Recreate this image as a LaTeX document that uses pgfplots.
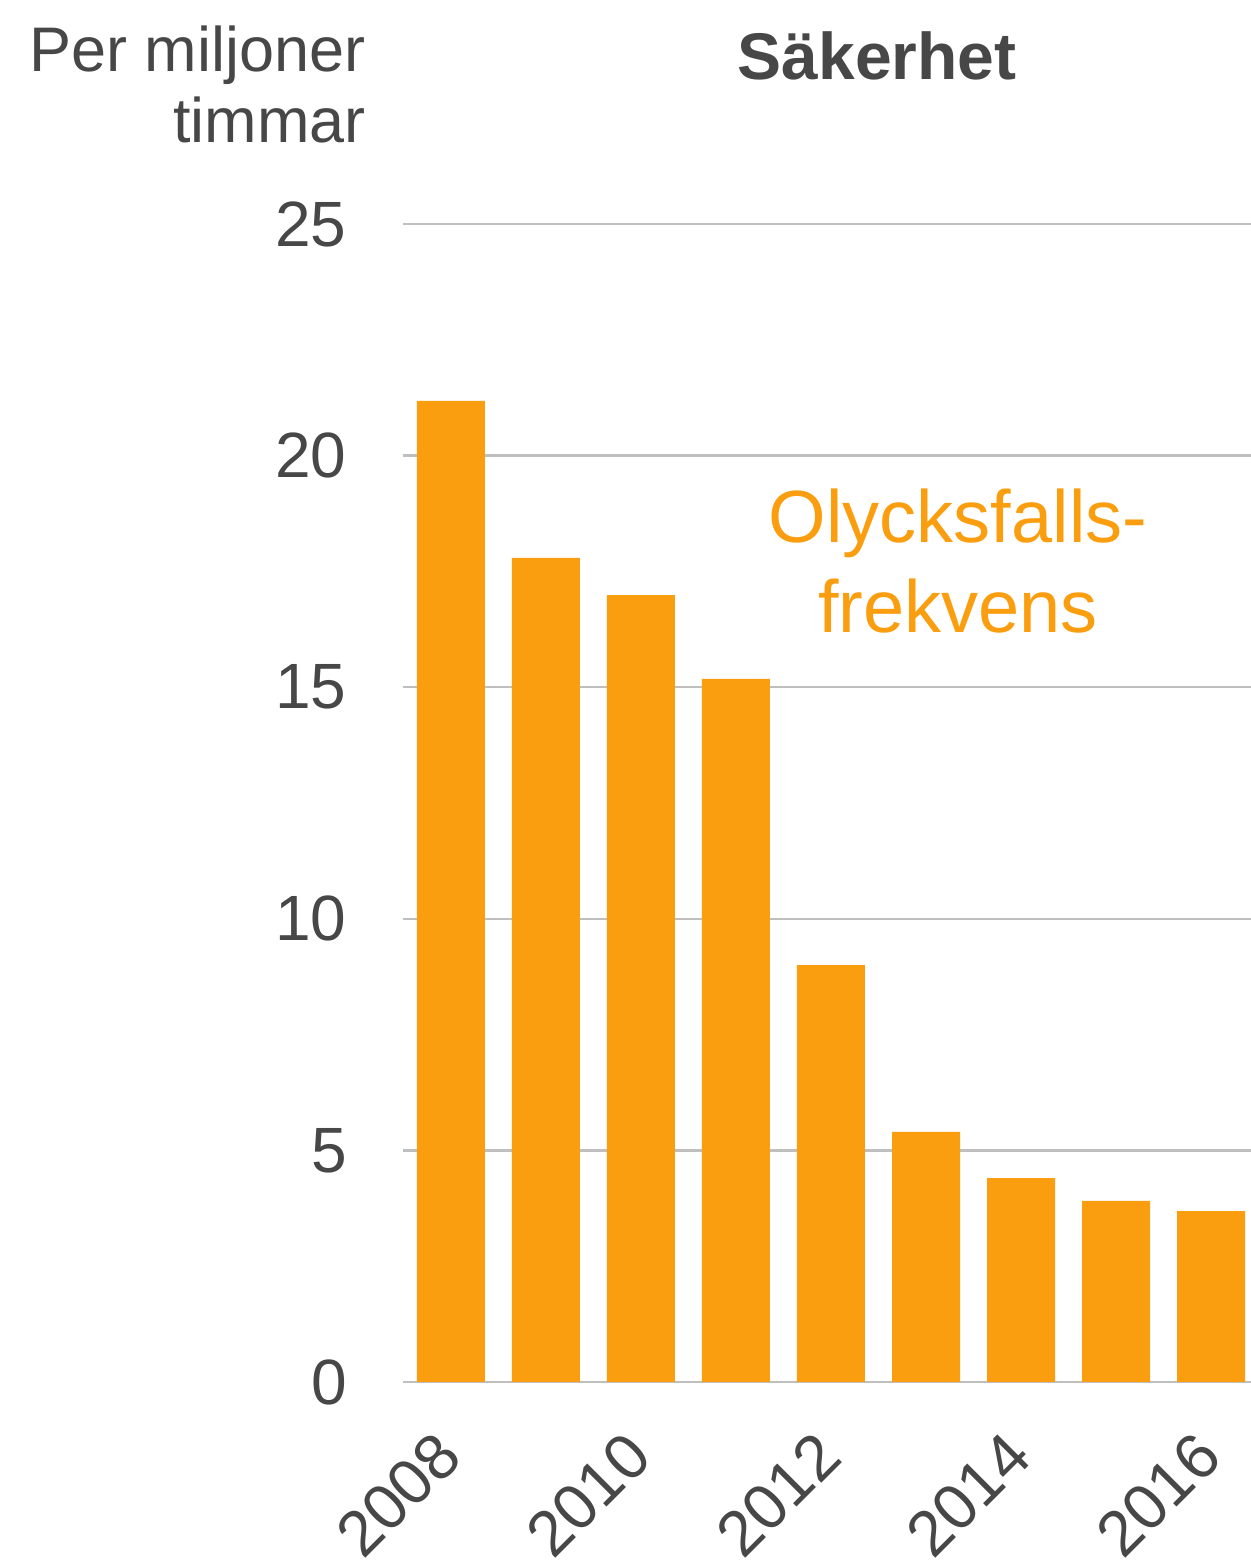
\documentclass[border=0pt]{standalone}
\usepackage{fontspec}
\setmainfont{Liberation Sans}
\usepackage{pgfplots}
\pgfplotsset{compat=1.18}
\definecolor{barc}{RGB}{250,158,16}
\definecolor{txt}{RGB}{71,71,71}
\definecolor{gridc}{RGB}{191,191,191}
\begin{document}
\begin{tikzpicture}
\path[use as bounding box] (0,0) rectangle (625.5pt,780pt);
\begin{axis}[
  at={(201.5pt,89pt)}, anchor=south west,
  scale only axis, width=424pt, height=579pt,
  xmin=-0.505, xmax=8.421, ymin=0, ymax=25,
  axis line style={draw=none},
  major tick length=0pt,
  ymajorgrids, grid style={gridc, line width=1.2pt},
  ytick={0,5,10,15,20,25},
  xtick={0,2,4,6,8},
  xticklabels={2008,2010,2012,2014,2016},
  /pgf/number format/assume math mode=true,
  tick label style={font=\fontsize{32}{38}\selectfont, text=txt},
  yticklabel style={anchor=east, inner sep=0pt, xshift=-28pt},
  xticklabel style={inner sep=0pt, xshift=-1pt, yshift=-31pt, rotate=45, anchor=east},
  ybar, bar width=34pt,
  clip=false,
]
\addplot[fill=barc, draw=none] coordinates {
  (0,21.18) (1,17.79) (2,16.99) (3,15.18) (4,9.0) (5,5.40) (6,4.40) (7,3.91) (8,3.69)
};
\end{axis}
\node[anchor=base east, text=txt, inner sep=0pt, font=\fontsize{31.5}{38}\selectfont] at (183pt,744pt) {Per miljoner};
\node[anchor=base east, text=txt, inner sep=0pt, font=\fontsize{31.5}{38}\selectfont] at (183pt,708.5pt) {timmar};
\node[anchor=base, text=txt, inner sep=0pt, font=\fontsize{33}{40}\selectfont\bfseries] at (438.5pt,740pt) {Säkerhet};
\node[anchor=base, text=barc, inner sep=0pt, font=\fontsize{37}{44}\selectfont] at (479pt,508.5pt) {Olycksfalls-};
\node[anchor=base, text=barc, inner sep=0pt, font=\fontsize{37}{44}\selectfont] at (479pt,463.5pt) {frekvens};
\end{tikzpicture}
\end{document}
